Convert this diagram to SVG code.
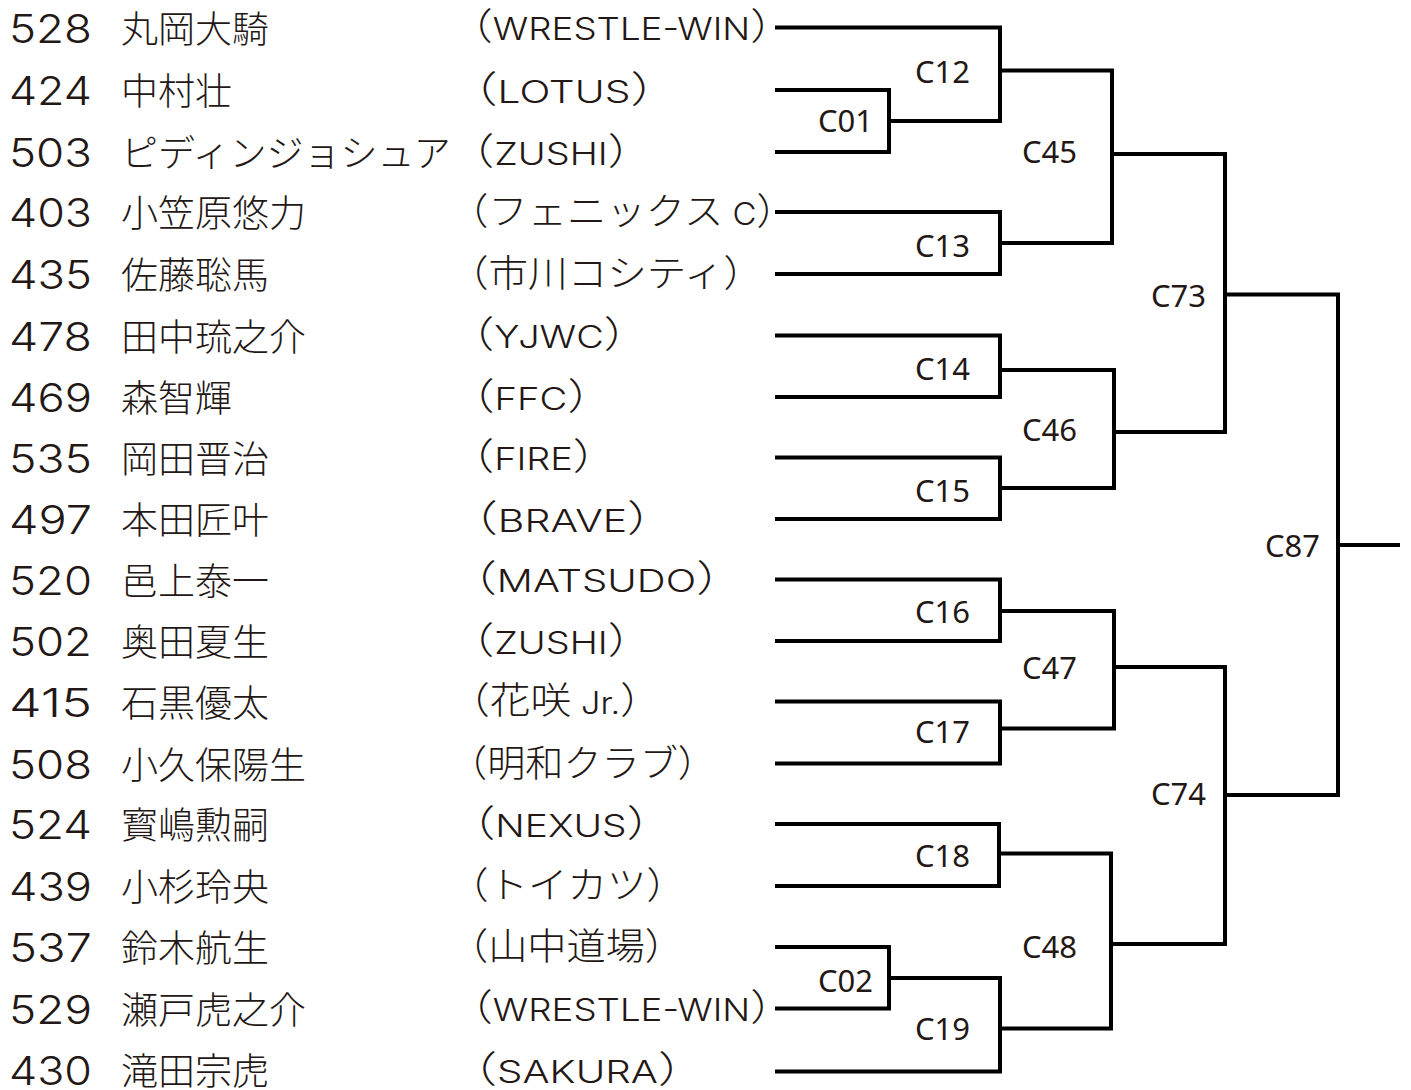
<svg xmlns="http://www.w3.org/2000/svg" width="1411" height="1090" viewBox="0 0 1411 1090">
<style>
.num{font-family:Inter,"Liberation Sans",sans-serif;font-weight:300;font-size:40px;fill:#231815}
.nm{font-family:"Noto Sans CJK JP",sans-serif;font-weight:300;font-size:37px;fill:#231815}
.tm{font-family:"Noto Sans CJK JP",sans-serif;font-weight:300;font-size:37px;fill:#231815}
.lat{font-family:Inter,"Liberation Sans",sans-serif;font-weight:300;font-size:31px}
.lbl{font-family:"Noto Sans","Open Sans",sans-serif;font-size:31px;fill:#231815}
.ln{fill:none;stroke:#000;stroke-width:4;stroke-linejoin:miter}
</style>
<rect width="1411" height="1090" fill="#fff"/>
<g id="entries">
<g id="e1"><text class="num" x="9" y="42.5" textLength="83" lengthAdjust="spacingAndGlyphs">528</text><text class="nm" x="121" y="42.5">丸岡大騎</text><text class="tm" x="449" y="40" textLength="345" lengthAdjust="spacingAndGlyphs">（<tspan class="lat">WRESTLE-WIN</tspan>）</text></g>
<g id="e2"><text class="num" x="9" y="105" textLength="83" lengthAdjust="spacingAndGlyphs">424</text><text class="nm" x="121" y="105">中村壮</text><text class="tm" x="449" y="102.5" textLength="230" lengthAdjust="spacingAndGlyphs">（<tspan class="lat">LOTUS</tspan>）</text></g>
<g id="e3"><text class="num" x="9" y="167" textLength="83" lengthAdjust="spacingAndGlyphs">503</text><text class="nm" x="121" y="167">ピディンジョシュア</text><text class="tm" x="449" y="164.5" textLength="204" lengthAdjust="spacingAndGlyphs">（<tspan class="lat">ZUSHI</tspan>）</text></g>
<g id="e4"><text class="num" x="9" y="227" textLength="83" lengthAdjust="spacingAndGlyphs">403</text><text class="nm" x="121" y="227">小笠原悠力</text><text class="tm" x="449" y="224.5" textLength="347" lengthAdjust="spacingAndGlyphs">（フェニックス<tspan class="lat"> C</tspan>）</text></g>
<g id="e5"><text class="num" x="9" y="289" textLength="83" lengthAdjust="spacingAndGlyphs">435</text><text class="nm" x="121" y="289">佐藤聡馬</text><text class="tm" x="449" y="287" textLength="314" lengthAdjust="spacingAndGlyphs">（市川コシティ）</text></g>
<g id="e6"><text class="num" x="9" y="350.5" textLength="83" lengthAdjust="spacingAndGlyphs">478</text><text class="nm" x="121" y="350.5">田中琉之介</text><text class="tm" x="449" y="348" textLength="200" lengthAdjust="spacingAndGlyphs">（<tspan class="lat">YJWC</tspan>）</text></g>
<g id="e7"><text class="num" x="9" y="412" textLength="83" lengthAdjust="spacingAndGlyphs">469</text><text class="nm" x="121" y="412">森智輝</text><text class="tm" x="449" y="409.5" textLength="164" lengthAdjust="spacingAndGlyphs">（<tspan class="lat">FFC</tspan>）</text></g>
<g id="e8"><text class="num" x="9" y="472.5" textLength="83" lengthAdjust="spacingAndGlyphs">535</text><text class="nm" x="121" y="472.5">岡田晋治</text><text class="tm" x="449" y="470" textLength="169" lengthAdjust="spacingAndGlyphs">（<tspan class="lat">FIRE</tspan>）</text></g>
<g id="e9"><text class="num" x="9" y="534" textLength="83" lengthAdjust="spacingAndGlyphs">497</text><text class="nm" x="121" y="534">本田匠叶</text><text class="tm" x="449" y="531.5" textLength="227" lengthAdjust="spacingAndGlyphs">（<tspan class="lat">BRAVE</tspan>）</text></g>
<g id="e10"><text class="num" x="9" y="594.5" textLength="83" lengthAdjust="spacingAndGlyphs">520</text><text class="nm" x="121" y="594.5">邑上泰一</text><text class="tm" x="449" y="592" textLength="295" lengthAdjust="spacingAndGlyphs">（<tspan class="lat">MATSUDO</tspan>）</text></g>
<g id="e11"><text class="num" x="9" y="656" textLength="83" lengthAdjust="spacingAndGlyphs">502</text><text class="nm" x="121" y="656">奥田夏生</text><text class="tm" x="449" y="653.5" textLength="204" lengthAdjust="spacingAndGlyphs">（<tspan class="lat">ZUSHI</tspan>）</text></g>
<g id="e12"><text class="num" x="9" y="716.5" textLength="83" lengthAdjust="spacingAndGlyphs">415</text><text class="nm" x="121" y="716.5">石黒優太</text><text class="tm" x="449" y="714" textLength="212" lengthAdjust="spacingAndGlyphs">（花咲<tspan class="lat"> Jr.</tspan>）</text></g>
<g id="e13"><text class="num" x="9" y="778.5" textLength="83" lengthAdjust="spacingAndGlyphs">508</text><text class="nm" x="121" y="778.5">小久保陽生</text><text class="tm" x="449" y="776.5" textLength="267" lengthAdjust="spacingAndGlyphs">（明和クラブ）</text></g>
<g id="e14"><text class="num" x="9" y="839" textLength="83" lengthAdjust="spacingAndGlyphs">524</text><text class="nm" x="121" y="839">寳嶋勲嗣</text><text class="tm" x="449" y="836.5" textLength="224" lengthAdjust="spacingAndGlyphs">（<tspan class="lat">NEXUS</tspan>）</text></g>
<g id="e15"><text class="num" x="9" y="901" textLength="83" lengthAdjust="spacingAndGlyphs">439</text><text class="nm" x="121" y="901">小杉玲央</text><text class="tm" x="449" y="899" textLength="237" lengthAdjust="spacingAndGlyphs">（トイカツ）</text></g>
<g id="e16"><text class="num" x="9" y="962" textLength="83" lengthAdjust="spacingAndGlyphs">537</text><text class="nm" x="121" y="962">鈴木航生</text><text class="tm" x="449" y="960" textLength="235" lengthAdjust="spacingAndGlyphs">（山中道場）</text></g>
<g id="e17"><text class="num" x="9" y="1023.5" textLength="83" lengthAdjust="spacingAndGlyphs">529</text><text class="nm" x="121" y="1023.5">瀬戸虎之介</text><text class="tm" x="449" y="1021" textLength="345" lengthAdjust="spacingAndGlyphs">（<tspan class="lat">WRESTLE-WIN</tspan>）</text></g>
<g id="e18"><text class="num" x="9" y="1084.5" textLength="83" lengthAdjust="spacingAndGlyphs">430</text><text class="nm" x="121" y="1084.5">滝田宗虎</text><text class="tm" x="449" y="1083" textLength="257" lengthAdjust="spacingAndGlyphs">（<tspan class="lat">SAKURA</tspan>）</text></g>
</g>
<g id="connectors">
<path class="ln" d="M775,90 H889 V152 H775"/>
<path class="ln" d="M775,27.5 H1000 V121 H889"/>
<path class="ln" d="M775,212 H1000 V274 H775"/>
<path class="ln" d="M1000,70.5 H1112 V243 H1000"/>
<path class="ln" d="M775,335.5 H1000 V397 H775"/>
<path class="ln" d="M775,457.5 H1000 V519 H775"/>
<path class="ln" d="M1000,370 H1114 V488 H1000"/>
<path class="ln" d="M1112,154 H1225 V432 H1114"/>
<path class="ln" d="M775,579.5 H1000 V641 H775"/>
<path class="ln" d="M775,701.5 H1000 V763.5 H775"/>
<path class="ln" d="M1000,611 H1114 V728.5 H1000"/>
<path class="ln" d="M775,824 H999 V886 H775"/>
<path class="ln" d="M775,947 H889 V1008.5 H775"/>
<path class="ln" d="M889,978 H1000 V1071.5 H775"/>
<path class="ln" d="M999,853.5 H1111 V1028.5 H1000"/>
<path class="ln" d="M1114,667 H1225 V944 H1111"/>
<path class="ln" d="M1225,294.5 H1338 V795 H1225"/>
<path class="ln" d="M1338,545 H1400"/>
</g>
<g id="labels">
<g id="C01"><text class="lbl" x="818" y="132">C01</text></g>
<g id="C12"><text class="lbl" x="915" y="83">C12</text></g>
<g id="C13"><text class="lbl" x="915" y="257">C13</text></g>
<g id="C45"><text class="lbl" x="1022" y="163">C45</text></g>
<g id="C14"><text class="lbl" x="915" y="380">C14</text></g>
<g id="C15"><text class="lbl" x="915" y="502">C15</text></g>
<g id="C46"><text class="lbl" x="1022" y="441">C46</text></g>
<g id="C73"><text class="lbl" x="1151" y="307">C73</text></g>
<g id="C87"><text class="lbl" x="1265" y="557">C87</text></g>
<g id="C16"><text class="lbl" x="915" y="623">C16</text></g>
<g id="C17"><text class="lbl" x="915" y="743">C17</text></g>
<g id="C47"><text class="lbl" x="1022" y="679">C47</text></g>
<g id="C74"><text class="lbl" x="1151" y="805">C74</text></g>
<g id="C18"><text class="lbl" x="915" y="867">C18</text></g>
<g id="C02"><text class="lbl" x="818" y="992">C02</text></g>
<g id="C19"><text class="lbl" x="915" y="1040">C19</text></g>
<g id="C48"><text class="lbl" x="1022" y="958">C48</text></g>
</g>
</svg>
